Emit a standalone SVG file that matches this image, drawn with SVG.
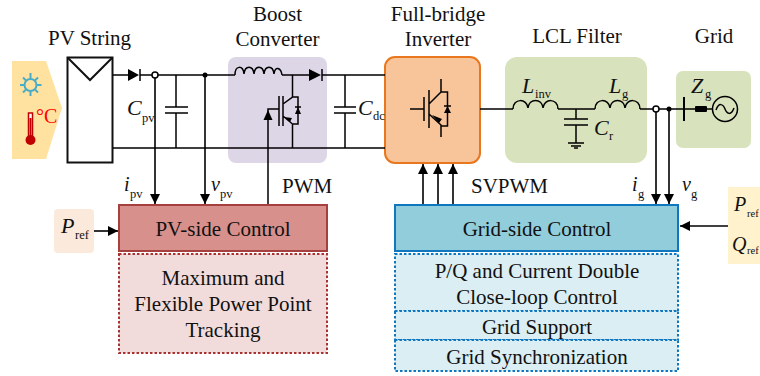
<svg xmlns="http://www.w3.org/2000/svg" width="760" height="376" viewBox="0 0 760 376">
<defs>
<marker id="ah" markerUnits="userSpaceOnUse" markerWidth="12" markerHeight="12" refX="10" refY="5" orient="auto" overflow="visible"><path d="M0 0L10 5L0 10Z" fill="#000"/></marker>
</defs>
<style>
text{font-family:"Liberation Serif","Times New Roman",serif;font-size:21px;fill:#111}
.m{text-anchor:middle}
.i{font-style:italic;font-size:22px}
.v{font-style:italic;font-size:20px}
.s{font-size:12.500px}
.w{fill:none;stroke:#000;stroke-width:1.500}
.a{fill:none;stroke:#000;stroke-width:1.600;marker-end:url(#ah)}
.k{fill:#000}
.d{fill:#DAEEF3;stroke:#0F77C0;stroke-width:2;stroke-dasharray:2.500 2}
</style>
<g id="conditions"><path d="M12 61H46L62 108L46 159H12Z" fill="#FFE29F"/>
<g stroke="#4BACC6" stroke-width="2" fill="none"><circle cx="30.500" cy="85" r="6"/><path d="M30.500 79V73M30.500 91V96M24.500 85H20M36.500 85H41.500M26 80.500L23 77.500M35 80.500L38 77.500M26 89.500L23 92.500M35 89.500L38 92.500"/></g>
<rect x="28.500" y="113" width="4" height="26" fill="#fff" stroke="#C00000" stroke-width="1.500"/><path d="M30.500 118V136" stroke="#C00000" stroke-width="2"/><circle cx="30.500" cy="140" r="5" fill="#C00000"/>
<text x="36" y="123" style="fill:#f00;font-size:20px">°C</text></g>
<g id="pv-string"><rect x="67.500" y="57.500" width="45" height="105" fill="#fff" stroke="#111" stroke-width="2"/><path d="M68 58L90 80L112 58" fill="none" stroke="#111" stroke-width="2"/><text class="m" x="89.500" y="45">PV String</text></g>
<g id="boost-converter"><rect x="228" y="57" width="99" height="106" rx="8" fill="#DDD6E6"/><text class="m" x="277.500" y="21">Boost</text><text class="m" x="277.500" y="46">Converter</text></g>
<g id="inverter"><rect x="385" y="57" width="95" height="106" rx="10" fill="#F8C59A" stroke="#E8771F" stroke-width="2"/><text class="m" x="438" y="21">Full-bridge</text><text class="m" x="438" y="46">Inverter</text></g>
<g id="lcl-filter"><rect x="505" y="57" width="142" height="106" rx="12" fill="#D8E2BC"/><text class="m" x="577" y="43">LCL Filter</text></g>
<g id="grid"><rect x="676" y="71" width="75" height="77" rx="7" fill="#D8E2BC"/><text class="m" x="714" y="43">Grid</text></g>
<g id="connectors">
<path class="w" d="M113 75H128M140 75H235"/><path class="k" d="M128 69L139 75L128 81Z"/><path class="w" d="M140 69V81"/>
<path class="w" d="M113 148H385M176 75V107M176 113V148M165 107H188M165 113H188"/>
<path class="w" d="M282 75H309M322 75H385"/><path class="w" d="M235 75C235 65 243 65 244 74C245 65 253 65 254 74C255 65 263 65 264 74C265 65 273 65 274 74C275 65 281 68 282 75"/>
<path class="k" d="M309 69L321 75L309 81Z"/><path class="w" d="M322 69V81"/>
<path class="w" d="M345 75V107M345 113V148M334 107H356M334 113H356"/>
<path class="w" d="M292.500 75V97L283 104M283 116L292.500 124V148M279 96V126M283 96V126M292.500 97H298V124H292.500M295 107H301"/><path class="k" d="M295 114L298 107L301 114ZM290 122L284 117L292 118Z"/>
<path class="w" d="M268 205V109H279"/><path class="k" d="M263.500 120L268 110L272.500 120Z"/>
<g><path class="w" d="M410 109H424M424 97V121M429 90V128M429 104L441 92V79M429 114L441 125V137M441 92H447.500V126H441M444 106H451"/><path class="k" d="M444 113L447.500 106L451 113ZM439 123L432 115L442 119Z"/></g>
<path class="a" d="M155 75V204"/><path class="a" d="M205 75V204"/>
<circle cx="155" cy="75" r="3" fill="#fff" stroke="#000" stroke-width="1.500"/><circle cx="205" cy="75" r="2.500" fill="#000"/>
<path class="a" d="M423 205V164"/><path class="a" d="M438 205V164"/><path class="a" d="M453 205V164"/>
<path class="w" d="M480 109H513M558 109H595M640 109H713"/>
<path class="w" d="M513 109C513 98 527 98 528 108C529 98 542 98 543 108C544 98 558 98 558 109"/>
<path class="w" d="M595 109C595 98 609 98 610 108C611 98 624 98 625 108C626 98 640 98 640 109"/>
<path class="w" d="M576 109V119M576 125V143M564 119H588M564 125H588M568 143H584M571 146H581M574 148H578"/>
<path class="a" d="M656 109V204"/><path class="a" d="M669 109V204"/>
<circle cx="656" cy="109" r="3" fill="#fff" stroke="#000" stroke-width="1.500"/><circle cx="669" cy="109" r="2.500" fill="#000"/>
<path d="M684 97V121" stroke="#000" stroke-width="2"/><rect x="695" y="106" width="12" height="6" rx="1" fill="#000"/>
<circle cx="725" cy="109" r="12.500" fill="none" stroke="#000" stroke-width="1.500"/><path class="w" d="M716 110C719 102 723 104 725 109C727 114 731 116 734 108"/>
<path class="a" d="M94 231H118"/><path class="a" d="M728 226H680"/>
</g>
<g id="labels-symbols">
<text class="i" x="127" y="115">C</text><text class="s" x="142" y="122">pv</text>
<text class="i" x="358" y="115">C</text><text class="s" x="373" y="120">dc</text>
<text class="i" x="522" y="93">L</text><text class="s" x="535" y="98">inv</text>
<text class="i" x="609" y="93">L</text><text class="s" x="622" y="98">g</text>
<text class="i" x="594" y="135">C</text><text class="s" x="609" y="140">r</text>
<text class="i" x="691" y="93">Z</text><text class="s" x="705" y="98">g</text>
<text class="v" x="124" y="191">i</text><text class="s" x="130" y="198">pv</text>
<text class="v" x="211" y="191">v</text><text class="s" x="220" y="198">pv</text>
<text class="v" x="632" y="191">i</text><text class="s" x="638" y="198">g</text>
<text class="v" x="682" y="191">v</text><text class="s" x="691" y="198">g</text>
<text x="282" y="193">PWM</text><text x="471" y="193">SVPWM</text>
</g>
<g id="pref-pv"><rect x="54" y="209" width="40" height="44" rx="4" fill="#FBE9DC"/><text class="i" x="61" y="233">P</text><text class="s" x="75" y="239">ref</text></g>
<g id="pref-qref"><rect x="728" y="187" width="32" height="77" fill="#FFF2CC"/><text class="i" x="734" y="211" style="font-size:20px">P</text><text class="s" x="747" y="217" style="font-size:10.500px">ref</text><text class="i" x="732" y="251" style="font-size:20px">Q</text><text class="s" x="747" y="254" style="font-size:10.500px">ref</text></g>
<g id="pv-control"><rect x="119" y="205" width="208" height="46" fill="#D8908C" stroke="#A5403E" stroke-width="2"/><text class="m" x="223" y="236">PV-side Control</text></g>
<g id="mppt"><rect x="119" y="254" width="208" height="99" fill="#F2DCDB" stroke="#A83232" stroke-width="2" stroke-dasharray="2.500 2"/><text class="m" x="223" y="285">Maximum and</text><text class="m" x="223" y="311">Flexible Power Point</text><text class="m" x="223" y="337">Tracking</text></g>
<g id="grid-control"><rect x="395" y="205" width="283" height="46" fill="#92CDDC" stroke="#0F77C0" stroke-width="2"/><text class="m" x="537" y="236">Grid-side Control</text></g>
<g id="grid-functions"><rect class="d" x="395" y="254" width="283" height="57"/><rect class="d" x="395" y="311" width="283" height="29"/><rect class="d" x="395" y="340" width="283" height="31"/>
<text class="m" x="537" y="278">P/Q and Current Double</text><text class="m" x="537" y="304">Close-loop Control</text><text class="m" x="537" y="334">Grid Support</text><text class="m" x="537" y="364">Grid Synchronization</text></g>
</svg>
